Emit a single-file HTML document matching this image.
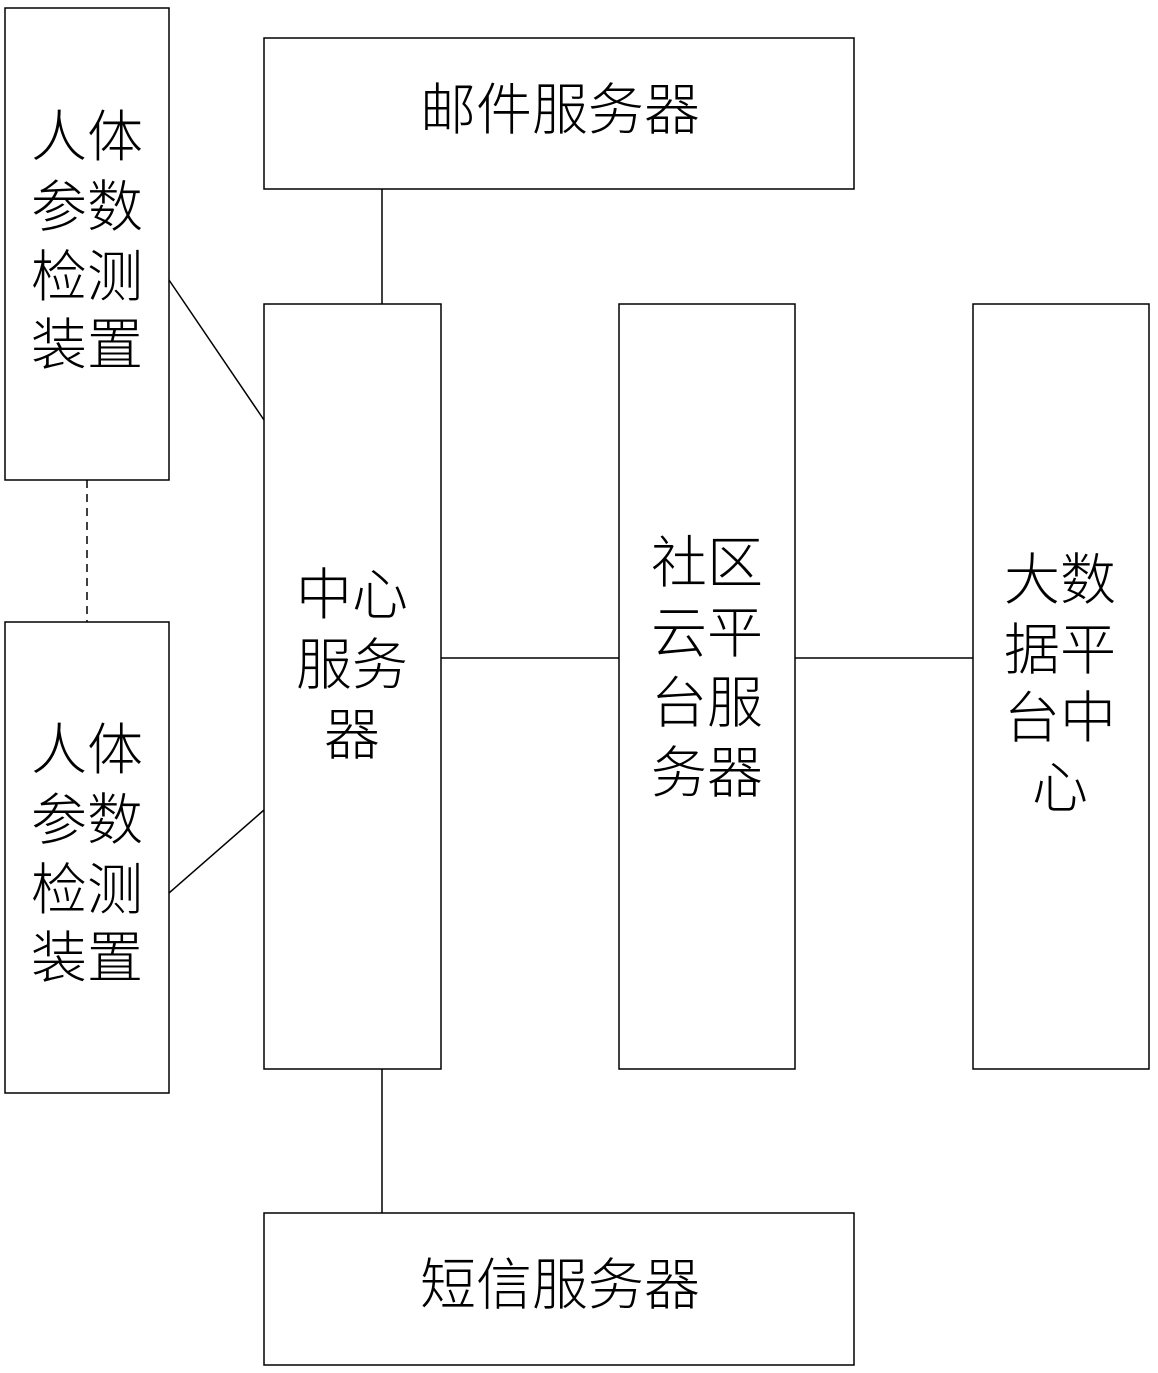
<!DOCTYPE html>
<html><head><meta charset="utf-8"><style>html,body{margin:0;padding:0;background:#fff}</style></head>
<body>
<svg width="1158" height="1373" xmlns="http://www.w3.org/2000/svg" style="display:block">
<g fill="none" stroke="#000" stroke-width="1.5">
<rect x="5" y="8" width="164" height="472"/>
<rect x="5" y="622" width="164" height="471"/>
<rect x="264" y="38" width="590" height="151"/>
<rect x="264" y="304" width="177" height="765"/>
<rect x="619" y="304" width="176" height="765"/>
<rect x="973" y="304" width="176" height="765"/>
<rect x="264" y="1213" width="590" height="152"/>
<line x1="382" y1="189" x2="382" y2="304"/>
<line x1="382" y1="1069" x2="382" y2="1213"/>
<line x1="441" y1="658" x2="619" y2="658"/>
<line x1="795" y1="658" x2="973" y2="658"/>
<line x1="169" y1="280" x2="264" y2="420"/>
<line x1="169" y1="893" x2="264" y2="810"/>
<line x1="87" y1="480" x2="87" y2="622" stroke-dasharray="8,6"/>
</g>
<g font-family="'Liberation Sans','Noto Sans CJK SC',sans-serif" font-size="56" font-weight="300" text-anchor="middle" dominant-baseline="central" fill="#000">
<text x="87" y="137">人体</text><text x="87" y="207">参数</text><text x="87" y="277">检测</text><text x="87" y="345">装置</text>
<text x="87" y="750">人体</text><text x="87" y="820">参数</text><text x="87" y="890">检测</text><text x="87" y="958">装置</text>
<text x="352" y="595">中心</text><text x="352" y="665">服务</text><text x="352" y="735">器</text>
<text x="707" y="563">社区</text><text x="707" y="633">云平</text><text x="707" y="703">台服</text><text x="707" y="773">务器</text>
<text x="1060" y="580">大数</text><text x="1060" y="650">据平</text><text x="1060" y="718">台中</text><text x="1060" y="788">心</text>
<text x="560" y="110">邮件服务器</text>
<text x="560" y="1285">短信服务器</text>
</g>
</svg>
</body></html>
